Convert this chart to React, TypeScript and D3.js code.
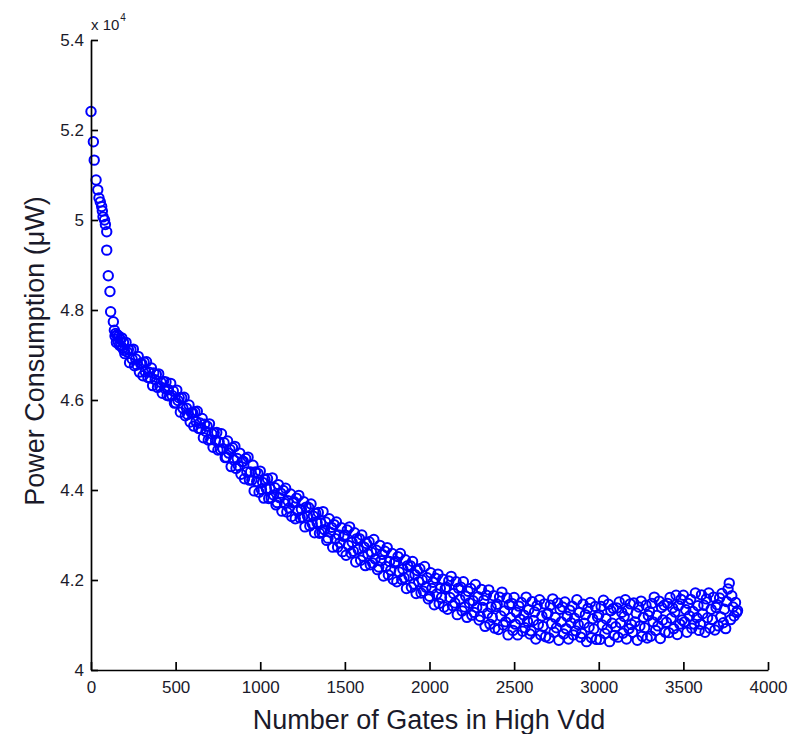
import * as d3 from 'd3';
import React, { useEffect, useRef } from 'react';

// number of gates in high Vdd
const gates = [
  0, 14, 19, 30, 40, 47, 55, 63, 67, 71, 80, 85, 93, 93, 102, 112, 116, 132,
  138, 142, 146, 150, 155, 160, 164, 168, 173, 178, 182, 187, 192, 196,
  200, 207, 214, 221, 228, 236, 243, 250, 257, 264, 271, 279, 286, 293,
  300, 307, 314, 321, 328, 336, 343, 350, 357, 364, 371, 379, 386, 393,
  400, 407, 414, 421, 428, 436, 443, 450, 457, 464, 471, 479, 486, 493,
  500, 507, 514, 521, 528, 536, 543, 550, 557, 564, 571, 579, 586, 593,
  600, 607, 614, 621, 628, 636, 643, 650, 657, 664, 671, 679, 686, 693,
  700, 707, 714, 721, 728, 736, 743, 750, 757, 764, 771, 779, 786, 793,
  800, 807, 814, 821, 828, 836, 843, 850, 857, 864, 871, 879, 886, 893,
  900, 907, 914, 921, 928, 936, 943, 950, 957, 964, 971, 979, 986, 993,
  1000, 1007, 1014, 1021, 1028, 1036, 1043, 1050, 1057, 1064, 1071, 1079, 1086, 1093,
  1100, 1107, 1114, 1121, 1128, 1136, 1143, 1150, 1157, 1164, 1171, 1179, 1186, 1193,
  1200, 1207, 1214, 1221, 1228, 1236, 1243, 1250, 1257, 1264, 1271, 1279, 1286, 1293,
  1300, 1307, 1314, 1321, 1328, 1336, 1343, 1350, 1357, 1364, 1371, 1379, 1386, 1393,
  1400, 1407, 1414, 1421, 1428, 1436, 1443, 1450, 1457, 1464, 1471, 1479, 1486, 1493,
  1500, 1507, 1514, 1521, 1528, 1536, 1543, 1550, 1557, 1564, 1571, 1579, 1586, 1593,
  1600, 1607, 1614, 1621, 1628, 1636, 1643, 1650, 1657, 1664, 1671, 1679, 1686, 1693,
  1700, 1707, 1714, 1721, 1728, 1736, 1743, 1750, 1757, 1764, 1771, 1779, 1786, 1793,
  1800, 1807, 1814, 1821, 1828, 1836, 1843, 1850, 1857, 1864, 1871, 1879, 1886, 1893,
  1900, 1907, 1914, 1921, 1928, 1936, 1943, 1950, 1957, 1964, 1971, 1979, 1986, 1993,
  2000, 2007, 2014, 2021, 2028, 2036, 2043, 2050, 2057, 2064, 2071, 2079, 2086, 2093,
  2100, 2107, 2114, 2121, 2128, 2136, 2143, 2150, 2157, 2164, 2171, 2179, 2186, 2193,
  2200, 2207, 2214, 2221, 2228, 2236, 2243, 2250, 2257, 2264, 2271, 2279, 2286, 2293,
  2300, 2307, 2314, 2321, 2328, 2336, 2343, 2350, 2357, 2364, 2371, 2379, 2386, 2393,
  2400, 2407, 2414, 2421, 2428, 2436, 2443, 2450, 2457, 2464, 2471, 2479, 2486, 2493,
  2500, 2507, 2514, 2521, 2528, 2536, 2543, 2550, 2557, 2564, 2571, 2579, 2586, 2593,
  2600, 2607, 2614, 2621, 2628, 2636, 2643, 2650, 2657, 2664, 2671, 2679, 2686, 2693,
  2700, 2707, 2714, 2721, 2728, 2736, 2743, 2750, 2757, 2764, 2771, 2779, 2786, 2793,
  2800, 2807, 2814, 2821, 2828, 2836, 2843, 2850, 2857, 2864, 2871, 2879, 2886, 2893,
  2900, 2907, 2914, 2921, 2928, 2936, 2943, 2950, 2957, 2964, 2971, 2979, 2986, 2993,
  3000, 3007, 3014, 3021, 3028, 3036, 3043, 3050, 3057, 3064, 3071, 3079, 3086, 3093,
  3100, 3107, 3114, 3121, 3128, 3136, 3143, 3150, 3157, 3164, 3171, 3179, 3186, 3193,
  3200, 3207, 3214, 3221, 3228, 3236, 3243, 3250, 3257, 3264, 3271, 3279, 3286, 3293,
  3300, 3307, 3314, 3321, 3328, 3336, 3343, 3350, 3357, 3364, 3371, 3379, 3386, 3393,
  3400, 3407, 3414, 3421, 3428, 3436, 3443, 3450, 3457, 3464, 3471, 3479, 3486, 3493,
  3500, 3507, 3514, 3521, 3528, 3536, 3543, 3550, 3557, 3564, 3571, 3579, 3586, 3593,
  3600, 3607, 3614, 3621, 3628, 3636, 3643, 3650, 3657, 3664, 3671, 3679, 3686, 3693,
  3700, 3707, 3714, 3721, 3728, 3736, 3743, 3750, 3757, 3764, 3771, 3779, 3786, 3793, 3800, 3808, 3815, 3820,
];

// power consumption, in units of 10^4 uW
const power = [
  5.241, 5.174, 5.133, 5.089, 5.067, 5.049, 5.04, 5.03, 5.02, 5.007, 5.0, 4.99, 4.974, 4.933, 4.876, 4.841, 4.796, 4.774,
  4.755, 4.742, 4.748, 4.728, 4.745, 4.73, 4.742, 4.722, 4.735, 4.72, 4.738, 4.715, 4.728, 4.71,
  4.703, 4.728, 4.707, 4.712, 4.683, 4.712, 4.691, 4.713, 4.676, 4.691, 4.678, 4.697, 4.662, 4.681,
  4.681, 4.654, 4.684, 4.663, 4.685, 4.650, 4.662, 4.649, 4.671, 4.632, 4.660, 4.645, 4.657, 4.628,
  4.658, 4.630, 4.639, 4.615, 4.641, 4.626, 4.640, 4.610, 4.623, 4.609, 4.637, 4.610, 4.620, 4.593,
  4.594, 4.622, 4.599, 4.605, 4.573, 4.605, 4.582, 4.606, 4.565, 4.582, 4.568, 4.589, 4.551, 4.572,
  4.572, 4.542, 4.574, 4.552, 4.575, 4.537, 4.549, 4.535, 4.559, 4.516, 4.546, 4.530, 4.542, 4.511,
  4.547, 4.512, 4.525, 4.495, 4.527, 4.510, 4.528, 4.489, 4.507, 4.490, 4.525, 4.492, 4.505, 4.472,
  4.473, 4.509, 4.482, 4.490, 4.452, 4.494, 4.467, 4.497, 4.448, 4.470, 4.454, 4.482, 4.435, 4.463,
  4.464, 4.425, 4.470, 4.440, 4.473, 4.422, 4.440, 4.422, 4.455, 4.398, 4.440, 4.419, 4.437, 4.395,
  4.442, 4.401, 4.417, 4.382, 4.423, 4.403, 4.425, 4.381, 4.403, 4.383, 4.427, 4.389, 4.405, 4.367,
  4.372, 4.412, 4.383, 4.393, 4.353, 4.399, 4.370, 4.404, 4.351, 4.376, 4.360, 4.391, 4.341, 4.372,
  4.374, 4.336, 4.382, 4.353, 4.388, 4.338, 4.357, 4.340, 4.374, 4.318, 4.362, 4.342, 4.361, 4.320,
  4.369, 4.325, 4.342, 4.305, 4.348, 4.327, 4.350, 4.304, 4.327, 4.306, 4.352, 4.312, 4.329, 4.288,
  4.293, 4.336, 4.306, 4.317, 4.273, 4.323, 4.292, 4.329, 4.273, 4.300, 4.283, 4.316, 4.263, 4.297,
  4.300, 4.255, 4.311, 4.277, 4.318, 4.260, 4.284, 4.264, 4.305, 4.240, 4.292, 4.268, 4.292, 4.244,
  4.300, 4.253, 4.273, 4.232, 4.281, 4.258, 4.285, 4.234, 4.262, 4.238, 4.290, 4.247, 4.266, 4.223,
  4.229, 4.277, 4.243, 4.257, 4.209, 4.264, 4.230, 4.272, 4.211, 4.241, 4.222, 4.259, 4.201, 4.238,
  4.241, 4.196, 4.252, 4.218, 4.259, 4.201, 4.224, 4.205, 4.245, 4.181, 4.232, 4.209, 4.232, 4.184,
  4.241, 4.191, 4.212, 4.170, 4.221, 4.196, 4.225, 4.171, 4.200, 4.175, 4.230, 4.184, 4.205, 4.158,
  4.164, 4.216, 4.181, 4.195, 4.145, 4.204, 4.169, 4.213, 4.148, 4.181, 4.161, 4.202, 4.140, 4.181,
  4.184, 4.135, 4.198, 4.161, 4.208, 4.143, 4.170, 4.149, 4.196, 4.123, 4.182, 4.157, 4.184, 4.131,
  4.196, 4.140, 4.164, 4.117, 4.175, 4.149, 4.181, 4.122, 4.154, 4.128, 4.190, 4.139, 4.163, 4.111,
  4.119, 4.179, 4.139, 4.155, 4.097, 4.166, 4.126, 4.178, 4.102, 4.140, 4.117, 4.165, 4.093, 4.141,
  4.146, 4.090, 4.162, 4.120, 4.173, 4.100, 4.131, 4.107, 4.160, 4.078, 4.145, 4.116, 4.148, 4.088,
  4.161, 4.102, 4.128, 4.078, 4.142, 4.113, 4.150, 4.086, 4.122, 4.094, 4.162, 4.108, 4.134, 4.080,
  4.087, 4.152, 4.110, 4.129, 4.069, 4.143, 4.101, 4.156, 4.078, 4.120, 4.097, 4.147, 4.074, 4.124,
  4.126, 4.071, 4.144, 4.103, 4.158, 4.084, 4.117, 4.094, 4.149, 4.066, 4.135, 4.107, 4.140, 4.080,
  4.151, 4.092, 4.119, 4.069, 4.133, 4.105, 4.142, 4.078, 4.115, 4.087, 4.156, 4.101, 4.128, 4.073,
  4.081, 4.146, 4.104, 4.123, 4.063, 4.137, 4.095, 4.150, 4.072, 4.114, 4.091, 4.141, 4.068, 4.118,
  4.123, 4.068, 4.141, 4.100, 4.155, 4.081, 4.114, 4.091, 4.146, 4.063, 4.132, 4.104, 4.137, 4.077,
  4.096, 4.138, 4.073, 4.151, 4.105, 4.128, 4.082, 4.119, 4.156, 4.069, 4.133, 4.092, 4.147, 4.101,
  4.084, 4.149, 4.107, 4.126, 4.066, 4.140, 4.098, 4.153, 4.075, 4.117, 4.094, 4.144, 4.071, 4.121,
  4.130, 4.075, 4.148, 4.107, 4.162, 4.088, 4.121, 4.098, 4.153, 4.070, 4.139, 4.111, 4.144, 4.084,
  4.106, 4.148, 4.083, 4.161, 4.115, 4.138, 4.092, 4.129, 4.166, 4.079, 4.143, 4.102, 4.157, 4.111,
  4.166, 4.107, 4.134, 4.084, 4.148, 4.120, 4.157, 4.093, 4.130, 4.102, 4.171, 4.116, 4.143, 4.088,
  4.102, 4.167, 4.125, 4.144, 4.084, 4.158, 4.116, 4.171, 4.093, 4.135, 4.112, 4.162, 4.089, 4.139,
  4.145, 4.098, 4.160, 4.118, 4.170, 4.105, 4.135, 4.092, 4.152, 4.180, 4.193, 4.112, 4.165, 4.140, 4.120, 4.150, 4.128, 4.132,
];

const xTicks = [0, 500, 1000, 1500, 2000, 2500, 3000, 3500, 4000];
const yTicks = [4, 4.2, 4.4, 4.6, 4.8, 5, 5.2, 5.4];

const App = () => {
  const ref = useRef<SVGSVGElement>(null);

  useEffect(() => {
    const width = 801;
    const height = 734;
    const margin = { top: 40, right: 33, bottom: 64, left: 91 };
    const font = 'Liberation Sans, Arial, Helvetica, sans-serif';

    const svg = d3.select(ref.current);
    svg.selectAll('*').remove();
    svg.attr('width', width).attr('height', height);

    const x = d3.scaleLinear().domain([0, 4000]).range([margin.left, width - margin.right]);
    const y = d3.scaleLinear().domain([4, 5.4]).range([height - margin.bottom, margin.top]);

    // points
    svg.append('g')
      .selectAll('circle')
      .data(gates.map((g, i) => [g, power[i]]))
      .join('circle')
      .attr('cx', d => x(d[0]))
      .attr('cy', d => y(d[1]))
      .attr('r', 4.7)
      .attr('fill', 'none')
      .attr('stroke', '#0000ff')
      .attr('stroke-width', 2);

    // x axis, ticks inward
    const xAxis = svg.append('g')
      .attr('transform', `translate(0, ${y(4)})`)
      .call(d3.axisBottom(x).tickValues(xTicks).tickSize(-8).tickSizeOuter(0).tickPadding(11).tickFormat(d3.format('d')));

    // y axis, ticks inward
    const yAxis = svg.append('g')
      .attr('transform', `translate(${x(0)}, 0)`)
      .call(d3.axisLeft(y).tickValues(yTicks).tickSize(-7).tickSizeOuter(0).tickPadding(7).tickFormat(d => String(+d)));

    [xAxis, yAxis].forEach(a => {
      a.select('.domain').attr('stroke', '#000').attr('stroke-width', 1.7);
      a.selectAll('.tick line').attr('stroke', '#000').attr('stroke-width', 1.7);
      a.selectAll('.tick text')
        .attr('font-family', font)
        .attr('font-size', 17)
        .attr('fill', '#1a1a2a');
    });

    // exponent label
    const exp = svg.append('text')
      .attr('x', x(0))
      .attr('y', margin.top - 10)
      .attr('font-family', font)
      .attr('font-size', 15)
      .attr('fill', '#1a1a2a');
    exp.append('tspan').text('x 10');
    exp.append('tspan').attr('dy', -9).attr('dx', 1).attr('font-size', 10).text('4');

    // axis titles
    svg.append('text')
      .attr('x', 429)
      .attr('y', 729)
      .attr('text-anchor', 'middle')
      .attr('font-family', font)
      .attr('font-size', 27)
      .attr('fill', '#1a1a2a')
      .text('Number of Gates in High Vdd');

    svg.append('text')
      .attr('transform', `translate(44, 351) rotate(-90)`)
      .attr('text-anchor', 'middle')
      .attr('font-family', font)
      .attr('font-size', 27)
      .attr('fill', '#1a1a2a')
      .text('Power Consumption (μW)');
  }, []);

  return <svg ref={ref} style={{ position: 'absolute', left: 0, top: 0, background: '#fff' }}></svg>;
};

export default App;
